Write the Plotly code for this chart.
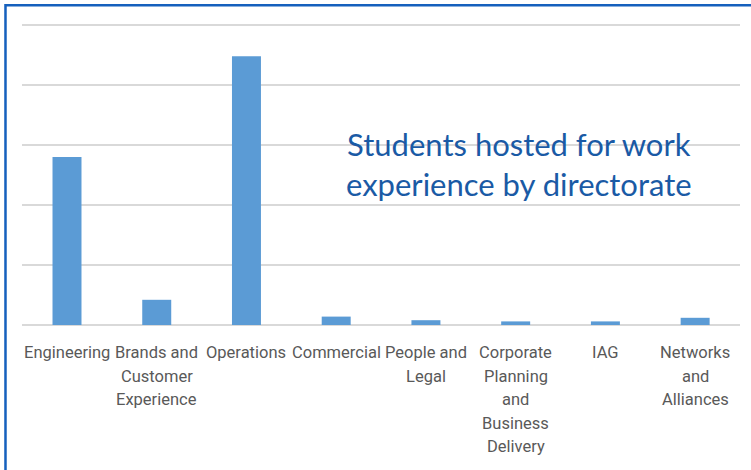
import plotly.graph_objects as go

categories = ["Engineering", "Brands and Customer Experience", "Operations", "Commercial",
              "People and Legal", "Corporate Planning and Business Delivery", "IAG",
              "Networks and Alliances"]
label_lines = [["Engineering"], ["Brands and", "Customer", "Experience"], ["Operations"],
               ["Commercial"], ["People and", "Legal"],
               ["Corporate", "Planning", "and", "Business", "Delivery"], ["IAG"],
               ["Networks", "and", "Alliances"]]
students = [140, 21, 224, 7, 4, 3, 3, 6]
title_text = "Students hosted for work<br>experience by directorate"

fig = go.Figure(go.Bar(x=categories, y=students, marker=dict(color="#5B9BD5", line=dict(width=0)),
                       hoverinfo="x+y"))

label_font = dict(family="Roboto, sans-serif", size=16.5, color="#595959")
annotations = []
for cat, lines in zip(categories, label_lines):
    for i, ln in enumerate(lines):
        annotations.append(dict(x=cat, y=0, xref="x", yref="y", text=ln, showarrow=False,
                                xanchor="center", yanchor="top", yshift=-16 - i * 23.5,
                                font=label_font))
annotations.append(dict(x=0.692, y=0.527, xref="paper", yref="paper", text=title_text,
                        showarrow=False, xanchor="center", yanchor="middle",
                        font=dict(family="Gill Sans, Lato, sans-serif", size=31, color="#1A5AA5")))

fig.update_layout(
    width=751, height=470,
    margin=dict(l=22, r=11, t=19, b=145),
    paper_bgcolor="white", plot_bgcolor="white",
    bargap=0.677,
    showlegend=False,
    annotations=annotations,
    xaxis=dict(showticklabels=False, ticks="", showgrid=False, zeroline=False, showline=False),
    yaxis=dict(range=[0, 255], tick0=0, dtick=50, showticklabels=False, ticks="", showgrid=True,
               gridcolor="#D9D9D9", gridwidth=1.5, zeroline=True, zerolinecolor="#D9D9D9",
               zerolinewidth=1.5, showline=False),
    shapes=[dict(type="rect", xref="paper", yref="paper", x0=-0.023, x1=1.2, y0=-0.8, y1=1.045,
                 line=dict(color="#1560BD", width=2.5), fillcolor="rgba(0,0,0,0)", layer="above")],
)

fig.write_html("out.html")
